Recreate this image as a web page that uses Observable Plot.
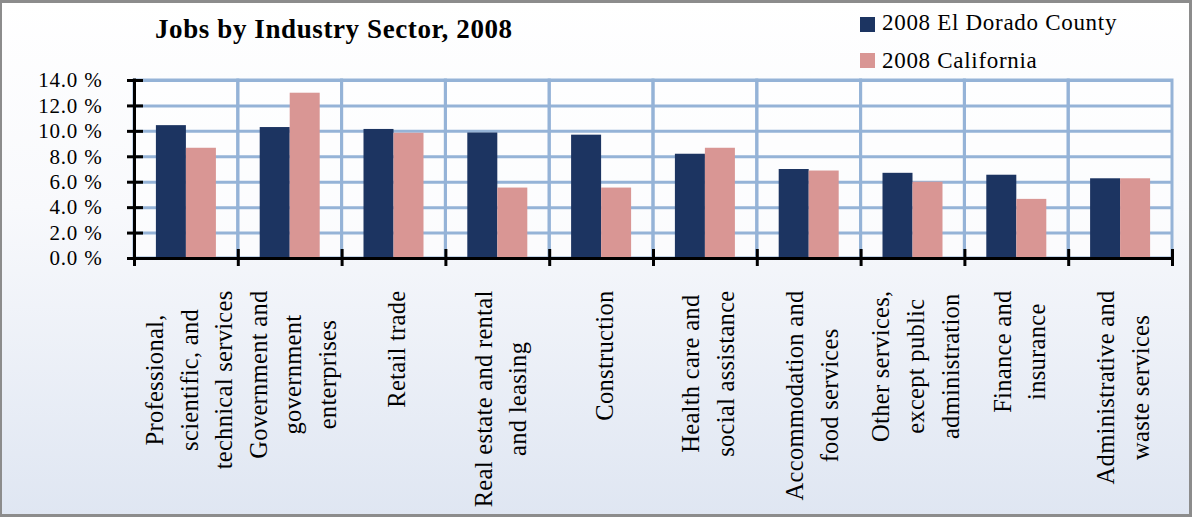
<!DOCTYPE html>
<html><head><meta charset="utf-8">
<script src="https://cdn.jsdelivr.net/npm/d3@7"></script>
<script src="https://cdn.jsdelivr.net/npm/@observablehq/plot@0.6"></script>
<style>
html,body{margin:0;padding:0;background:#fff;}
#chart{position:relative;width:1192px;height:517px;overflow:hidden;background:linear-gradient(180deg,#ffffff 0%,#f8f9fc 40%,#dfe6f2 100%);font-family:"Liberation Serif",serif;color:#000;}
#chart svg{position:absolute;left:0;top:0;}
#border{position:absolute;left:0;top:0;width:1192px;height:517px;border:3px solid #8c8c8c;border-left-width:2px;box-sizing:border-box;pointer-events:none;}
#title{position:absolute;left:155px;top:15.7px;font-weight:bold;font-size:27px;line-height:27px;letter-spacing:0.6px;white-space:nowrap;}
.legtxt{position:absolute;left:882px;font-size:23px;line-height:23px;letter-spacing:0.7px;white-space:nowrap;}
.sw{position:absolute;left:860px;width:15px;height:15px;}
</style>
</head><body>
<div id="chart">
  <div id="title"></div>
  <div class="sw" id="sw0" style="top:17px"></div><div class="legtxt" id="lg0" style="top:10.7px"></div>
  <div class="sw" id="sw1" style="top:53px"></div><div class="legtxt" id="lg1" style="top:48.7px"></div>
  <div id="border"></div>
</div>
<script>
const titleText = "Jobs by Industry Sector, 2008";
const seriesNames = ["2008 El Dorado County", "2008 California"];
const seriesColors = ["#1c3461", "#d99694"];
const sectors = [
  "Professional, scientific, and technical services",
  "Government and government enterprises",
  "Retail trade",
  "Real estate and rental and leasing",
  "Construction",
  "Health care and social assistance",
  "Accommodation and food services",
  "Other services, except public administration",
  "Finance and insurance",
  "Administrative and waste services"
];
const sectorLabels = [
  "Professional,\nscientific, and\ntechnical services",
  "Government and\ngovernment\nenterprises",
  "Retail trade",
  "Real estate and rental\nand leasing",
  "Construction",
  "Health care and\nsocial assistance",
  "Accommodation and\nfood services",
  "Other services,\nexcept public\nadministration",
  "Finance and\ninsurance",
  "Administrative and\nwaste services"
];
const elDorado = [10.45, 10.3, 10.15, 9.87, 9.7, 8.2, 7.0, 6.7, 6.55, 6.27];
const california = [8.67, 13.0, 9.85, 5.54, 5.54, 8.67, 6.88, 6.0, 4.65, 6.27];
const yTicks = [0, 2, 4, 6, 8, 10, 12, 14];

document.getElementById("title").textContent = titleText;
seriesNames.forEach((n, i) => {
  document.getElementById("lg" + i).textContent = n;
  document.getElementById("sw" + i).style.background = seriesColors[i];
});

const W = 1192, H = 517, ML = 134, MR = 20, MT = 80, MB = 259;
const bw = (W - ML - MR) / sectors.length;
const barW = 30, group = 2 * barW, off = (bw - group) / 2;
const grid = "#95b3d7";

const rowsE = sectors.map((s, i) => ({sector: s, value: elDorado[i]}));
const rowsC = sectors.map((s, i) => ({sector: s, value: california[i]}));

// measure label widths for block placement
const labFont = 24.5, labLS = 0.3;
const ctx = document.createElement("canvas").getContext("2d");
ctx.font = `${labFont}px "Liberation Serif"`;
const maxW = sectorLabels.map(l => d3.max(l.split("\n"), t => ctx.measureText(t).width + labLS * t.length));

const labelMarks = sectors.map((s, i) => Plot.text([s], {
  x: d => d, text: () => sectorLabels[i], frameAnchor: "bottom", rotate: -90,
  textAnchor: "middle", lineAnchor: "middle", lineHeight: 1.42,
  dy: 32 + maxW[i] / 2, fontSize: labFont, fill: "black"
}));

const plot = Plot.plot({
  width: W, height: H, marginLeft: ML, marginRight: MR, marginTop: MT, marginBottom: MB,
  style: {background: "transparent", fontFamily: "Liberation Serif", fontSize: "21px", color: "black", overflow: "visible"},
  x: {type: "band", domain: sectors, padding: 0, round: false, axis: null},
  y: {domain: [0, 14], axis: null},
  marks: [
    Plot.frame({fill: "white", fillOpacity: 0.55, stroke: "none"}),
    Plot.ruleY(yTicks.filter(d => d > 0), {stroke: grid, strokeWidth: 3}),
    Plot.barY(sectors, {x: d => d, y1: 0, y2: 14, fill: "none", stroke: grid, strokeWidth: 3}),
    Plot.barY(rowsE, {x: "sector", y: "value", fill: seriesColors[0], insetLeft: off, insetRight: bw - off - barW}),
    Plot.barY(rowsC, {x: "sector", y: "value", fill: seriesColors[1], insetLeft: off + barW, insetRight: off}),
    Plot.ruleY([0], {stroke: "black", strokeWidth: 3}),
    Plot.ruleX([sectors[0]], {x: d => d, dx: -bw / 2, stroke: "black", strokeWidth: 3, insetTop: -1.5, insetBottom: -8}),
    Plot.tickY(yTicks, {y: d => d, x: () => sectors[0], stroke: "black", strokeWidth: 3, insetLeft: -7, insetRight: bw - 9}),
    Plot.ruleX(sectors, {x: d => d, dx: -bw / 2, y1: 0, y2: 0, stroke: "black", strokeWidth: 3, insetTop: -9, insetBottom: -8}),
    Plot.ruleX([sectors[sectors.length - 1]], {x: d => d, dx: bw / 2, y1: 0, y2: 0, stroke: "black", strokeWidth: 3, insetTop: -9, insetBottom: -8}),
    Plot.axisY({ticks: yTicks, tickFormat: d => d.toFixed(1) + " %", tickSize: 0, tickPadding: 32, fontSize: 21, label: null}),
    ...labelMarks
  ]
});
document.getElementById("chart").insertBefore(plot, document.getElementById("border"));
d3.select(plot).selectAll("g[aria-label='y-axis tick label'] text").style("letter-spacing", "0.8px");
d3.select(plot).selectAll("g[aria-label='text'] text").style("letter-spacing", labLS + "px");
</script>
</body></html>
